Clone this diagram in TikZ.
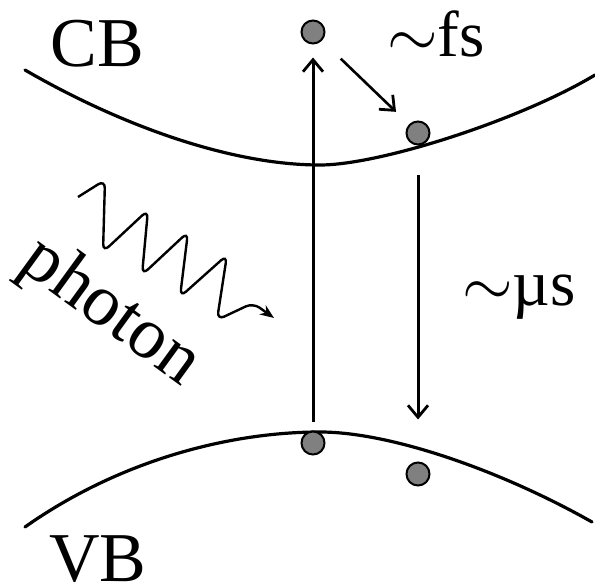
\RequirePackage{fix-cm}
\documentclass[tikz,border=0pt]{standalone}
\usepackage{fontspec}
\setmainfont{Liberation Serif}
\usetikzlibrary{arrows.meta, positioning}

\tikzset{
  band/.style={line width=3.2pt, line cap=round},
  carrier/.style={circle, draw, fill=gray, line width=2pt, minimum size=23pt, inner sep=0pt},
  trans/.style={line width=2.8pt, -{Straight Barb[length=12pt, width=20pt, line width=2.8pt]}},
  bandlabel/.style={font=\fontsize{70}{70}\selectfont, inner sep=0pt},
  timelabel/.style={font=\fontsize{65}{65}\selectfont, inner sep=0pt}
}

\begin{document}
\begin{tikzpicture}[x=1pt, y=-1pt]
  \useasboundingbox (0,0) rectangle (595,588);

  % Conduction band
  \draw[band] (25,70) .. controls (120,125) and (230,165) .. (320,165)
                      .. controls (380,165) and (520,120) .. (595,75);

  % Valence band
  \draw[band] (25,527) .. controls (120,460) and (230,432) .. (320,432)
                       .. controls (390,432) and (500,470) .. (592,522);

  % Carriers
  \node[carrier] (ctop) at (313,32) {};
  \node[carrier] (crb) at (418,133) {};
  \node[carrier] (vbl) at (313,443) {};
  \node[carrier] (vbr) at (418,474) {};

  % Excitation, thermalisation and recombination
  \draw[trans, line width=3pt, shorten <=9pt, shorten >=13pt] (vbl) -- (ctop);
  \draw[trans, line width=2.6pt, shorten <=26pt, shorten >=18pt] (ctop) -- (crb);
  \draw[trans, line width=3pt, shorten <=30pt, shorten >=42pt] (crb) -- (vbr);

  % Photon
  \draw[line width=2.4pt, rounded corners=8pt, -{Stealth[length=14pt, width=11pt]}]
    (78,197) -- (105,180) -- (103,252) -- (148,210) -- (142,275) -- (188,232)
    -- (180,297) -- (227,255) -- (217,320) -- (253,303) -- (274,318);

  % Labels
  \node[bandlabel] (cb) at (97,44) {CB};
  \node[bandlabel] (vb) at (98,559) {VB};
  \node[timelabel] (fs) at (436,34) {$\sim$fs};
  \node[timelabel] (mus) at (519,297) {$\sim$µs};
  \node[bandlabel, font=\fontsize{73}{73}\selectfont, rotate=-36] (photon) at (110,313) {photon};
\end{tikzpicture}
\end{document}
